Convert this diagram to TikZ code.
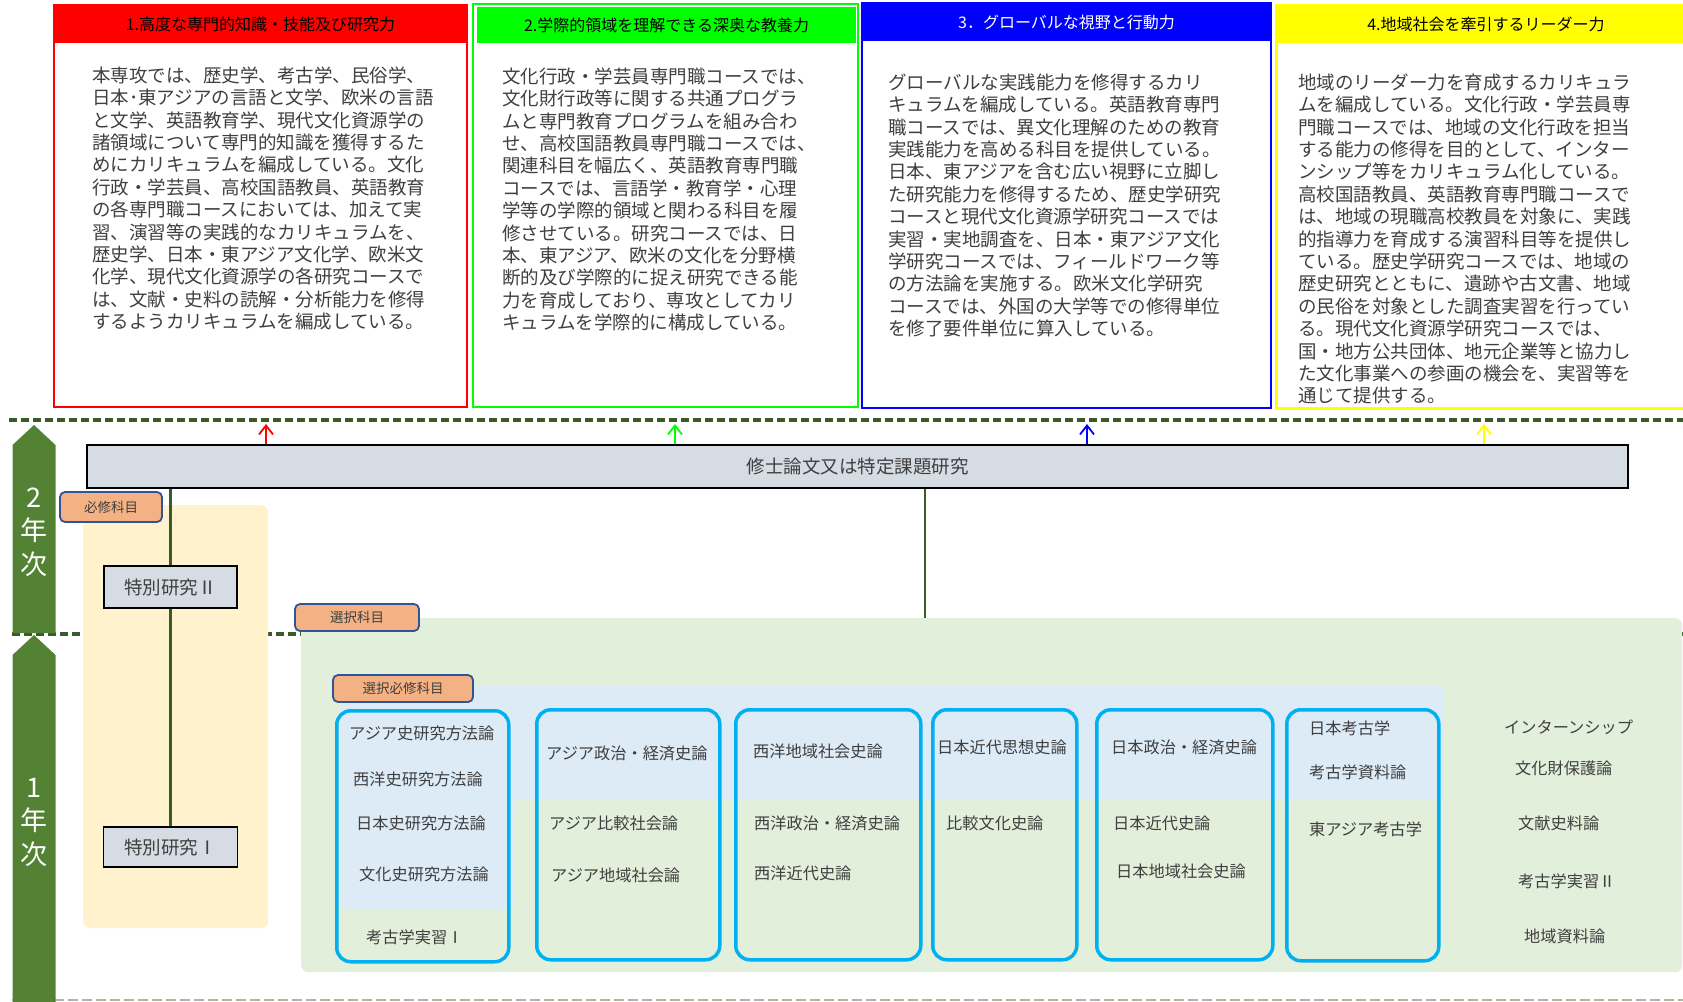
\documentclass[tikz,border=0pt]{standalone}
\usepackage{fontspec}
\setmainfont{Noto Sans CJK JP}
\usetikzlibrary{arrows.meta}
\definecolor{tred}{HTML}{FF0000}
\definecolor{tgreen}{HTML}{00FF00}
\definecolor{tblue}{HTML}{0000FF}
\definecolor{tyellow}{HTML}{FFFF00}
\definecolor{txt}{HTML}{3F3F3F}
\definecolor{dgreen}{HTML}{3B5A2A}
\definecolor{yeargreen}{HTML}{548235}
\definecolor{barfill}{HTML}{D6DCE4}
\definecolor{tagfill}{HTML}{F4B183}
\definecolor{tagblue}{HTML}{2F5597}
\definecolor{kcyan}{HTML}{00B0F0}
\definecolor{panelyellow}{HTML}{FFF2CC}
\definecolor{panelgreen}{HTML}{E2EFDA}
\definecolor{panelblue}{HTML}{DDEBF7}
\definecolor{lightdash}{HTML}{A9B79F}
\begin{document}
\begin{tikzpicture}[x=1pt,y=-1pt,
  frame/.style={draw=#1, line width=2.5pt, inner sep=0, outer sep=0, anchor=north west},
  hdr/.style={fill=#1, draw=none, inner sep=0, outer sep=0, font=\fontsize{16}{18}\selectfont},
  body/.style={anchor=north west, inner sep=0, align=left, text=txt, font=\fontsize{18.5}{22.4}\selectfont},
  course/.style={anchor=west, inner sep=0, text=txt, font=\fontsize{16.2}{19}\selectfont},
  tag/.style={draw=tagblue, fill=tagfill, line width=1.8pt, rounded corners=5pt, inner sep=0, text=txt, font=\fontsize{13.5}{16}\selectfont},
  kbox/.style={draw=kcyan, line width=3.5pt, rounded corners=14pt, inner sep=0, anchor=north west},
  sbox/.style={draw=black, line width=1.8pt, fill=barfill, inner sep=0, text=txt, font=\fontsize{18.5}{20}\selectfont},
  panel/.style={fill=#1, draw=none, rounded corners=7pt, inner sep=0, anchor=north west},
  dashline/.style={dgreen, line width=3.5pt, dash pattern=on 8pt off 4pt},
  conn/.style={dgreen, line width=#1},
  up/.style={draw=#1, line width=1.8pt, -{Straight Barb[length=9pt,width=14pt]}},
  yearlbl/.style={text=white, align=center, inner sep=0, font=\fontsize{27}{33.5}\selectfont}
]
\useasboundingbox (0,0) rectangle (1683,1001);
\clip (0,0) rectangle (1683,1001);

% dashed separators
\coordinate (dl1) at (9,420);   \coordinate (dr1) at (1683,420);
\coordinate (dl2) at (12,634);  \coordinate (dr2) at (1683,634);
\coordinate (dl3) at (12,1000); \coordinate (dr3) at (1683,1000);
\draw[dashline] (dl1) -- (dr1);
\draw[dashline] (dl2) -- (dr2);
\draw[lightdash, line width=1.5pt, dash pattern=on 10pt off 4pt] (dl3) -- (dr3);

% year arrows
\fill[yeargreen] (12.5,633) -- (12.5,445) -- (34,425) -- (55.5,445) -- (55.5,633) -- cycle;
\fill[yeargreen] (12.5,1010) -- (12.5,655) -- (34,635) -- (55.5,655) -- (55.5,1010) -- cycle;
\node[yearlbl] (y2) at (34,532) {2\\年\\次};
\node[yearlbl] (y1) at (34,822) {1\\年\\次};

% top boxes
\node[hdr=tred, minimum width=413pt, minimum height=38pt] (h1) at (260.5,24) {1.高度な専門的知識・技能及び研究力};
\node[frame=tred, minimum width=413pt, minimum height=402pt] (b1) at (54,5) {};
\node[hdr=tgreen, minimum width=379pt, minimum height=36pt] (h2) at (666.5,25) {2.学際的領域を理解できる深奥な教養力};
\node[frame=tgreen, minimum width=385pt, minimum height=403pt] (b2) at (473,4) {};
\node[hdr=tblue, text=white, minimum width=409pt, minimum height=38pt] (h3) at (1066.5,22) {3．グローバルな視野と行動力};
\node[frame=tblue, minimum width=409pt, minimum height=405pt] (b3) at (862,3) {};
\node[hdr=tyellow, minimum width=420pt, minimum height=38pt] (h4) at (1486,24) {4.地域社会を牽引するリーダー力};
\node[frame=tyellow, line width=3pt, minimum width=420pt, minimum height=403pt] (b4) at (1276,5) {};

\node[body] (t1) at (92,66.5) {本専攻では、歴史学、考古学、民俗学、\\日本･東アジアの言語と文学、欧米の言語\\と文学、英語教育学、現代文化資源学の\\諸領域について専門的知識を獲得するた\\めにカリキュラムを編成している。文化\\行政・学芸員、高校国語教員、英語教育\\の各専門職コースにおいては、加えて実\\習、演習等の実践的なカリキュラムを、\\歴史学、日本・東アジア文化学、欧米文\\化学、現代文化資源学の各研究コースで\\は、文献・史料の読解・分析能力を修得\\するようカリキュラムを編成している。};
\node[body] (t2) at (502,67.5) {文化行政・学芸員専門職コースでは、\\文化財行政等に関する共通プログラ\\ムと専門教育プログラムを組み合わ\\せ、高校国語教員専門職コースでは、\\関連科目を幅広く、英語教育専門職\\コースでは、言語学・教育学・心理\\学等の学際的領域と関わる科目を履\\修させている。研究コースでは、日\\本、東アジア、欧米の文化を分野横\\断的及び学際的に捉え研究できる能\\力を育成しており、専攻としてカリ\\キュラムを学際的に構成している。};
\node[body] (t3) at (888,73.5) {グローバルな実践能力を修得するカリ\\キュラムを編成している。英語教育専門\\職コースでは、異文化理解のための教育\\実践能力を高める科目を提供している。\\日本、東アジアを含む広い視野に立脚し\\た研究能力を修得するため、歴史学研究\\コースと現代文化資源学研究コースでは\\実習・実地調査を、日本・東アジア文化\\学研究コースでは、フィールドワーク等\\の方法論を実施する。欧米文化学研究\\コースでは、外国の大学等での修得単位\\を修了要件単位に算入している。};
\node[body] (t4) at (1298,73.5) {地域のリーダー力を育成するカリキュラ\\ムを編成している。文化行政・学芸員専\\門職コースでは、地域の文化行政を担当\\する能力の修得を目的として、インター\\ンシップ等をカリキュラム化している。\\高校国語教員、英語教育専門職コースで\\は、地域の現職高校教員を対象に、実践\\的指導力を育成する演習科目等を提供し\\ている。歴史学研究コースでは、地域の\\歴史研究とともに、遺跡や古文書、地域\\の民俗を対象とした調査実習を行ってい\\る。現代文化資源学研究コースでは、\\国・地方公共団体、地元企業等と協力し\\た文化事業への参画の機会を、実習等を\\通じて提供する。};

% panels
\node[panel=panelyellow, minimum width=185pt, minimum height=423pt] (py) at (83,505) {};
\node[panel=panelgreen, minimum width=1381pt, minimum height=354pt] (pg) at (301,618) {};
\fill[panelblue, rounded corners=4pt] (340,685) -- (1443,685) -- (1443,800) -- (513,800) -- (513,909) -- (340,909) -- cycle;

% thesis bar and special research
\node[sbox, minimum width=1541pt, minimum height=43pt] (bar) at (857.5,466.5) {修士論文又は特定課題研究};
\node[sbox, minimum width=133pt, minimum height=42pt] (s2) at (170.5,587) {特別研究Ⅱ};
\node[sbox, minimum width=134pt, minimum height=40pt] (s1) at (170.5,847) {特別研究Ⅰ};
\draw[conn=3pt] (bar.south -| s2.north) -- (s2.north);
\draw[conn=3pt] (s2.south) -- (s1.north);
\coordinate (vx) at (925,0);
\draw[conn=2pt] (bar.south -| vx) -- (pg.north -| vx);

% arrows to the four outcomes
\coordinate (a1) at (266,424);
\coordinate (a2) at (675,424);
\coordinate (a3) at (1087,424);
\coordinate (a4) at (1484,424);
\draw[up=tred] (bar.north -| a1) -- (a1);
\draw[up=tgreen] (bar.north -| a2) -- (a2);
\draw[up=tblue] (bar.north -| a3) -- (a3);
\draw[up=tyellow] (bar.north -| a4) -- (a4);

% tags
\node[tag, minimum width=102pt, minimum height=30pt] (tg1) at (111,507) {必修科目};
\node[tag, minimum width=124pt, minimum height=27pt] (tg2) at (357,617.5) {選択科目};
\node[tag, minimum width=140pt, minimum height=27pt] (tg3) at (403,688.5) {選択必修科目};

% course groups
\node[kbox, minimum width=172pt, minimum height=251pt] (k1) at (335,709) {};
\node[kbox, minimum width=183pt, minimum height=250pt] (k2) at (535,708) {};
\node[kbox, minimum width=185pt, minimum height=250pt] (k3) at (734,708) {};
\node[kbox, minimum width=144pt, minimum height=250pt] (k4) at (931,708) {};
\node[kbox, minimum width=176pt, minimum height=250pt] (k5) at (1095,708) {};
\node[kbox, minimum width=152pt, minimum height=251pt] (k6) at (1285,708) {};

\node[course] (c11) at (349,733) {アジア史研究方法論};
\node[course] (c12) at (353,779) {西洋史研究方法論};
\node[course] (c13) at (356,823) {日本史研究方法論};
\node[course] (c14) at (359,874) {文化史研究方法論};
\node[course] (c15) at (366,937) {考古学実習Ⅰ};

\node[course] (c21) at (546,753) {アジア政治・経済史論};
\node[course] (c22) at (549,823) {アジア比較社会論};
\node[course] (c23) at (551,875) {アジア地域社会論};

\node[course] (c31) at (753,751) {西洋地域社会史論};
\node[course] (c32) at (754,823) {西洋政治・経済史論};
\node[course] (c33) at (754,873) {西洋近代史論};

\node[course] (c41) at (937,747) {日本近代思想史論};
\node[course] (c42) at (946,823) {比較文化史論};

\node[course] (c51) at (1111,747) {日本政治・経済史論};
\node[course] (c52) at (1113,823) {日本近代史論};
\node[course] (c53) at (1116,871) {日本地域社会史論};

\node[course] (c61) at (1309,728) {日本考古学};
\node[course] (c62) at (1309,772) {考古学資料論};
\node[course] (c63) at (1309,829) {東アジア考古学};

\node[course] (r1) at (1504,727) {インターンシップ};
\node[course] (r2) at (1515,768) {文化財保護論};
\node[course] (r3) at (1518,823) {文献史料論};
\node[course] (r4) at (1518,881) {考古学実習Ⅱ};
\node[course] (r5) at (1524,936) {地域資料論};
\end{tikzpicture}
\end{document}
